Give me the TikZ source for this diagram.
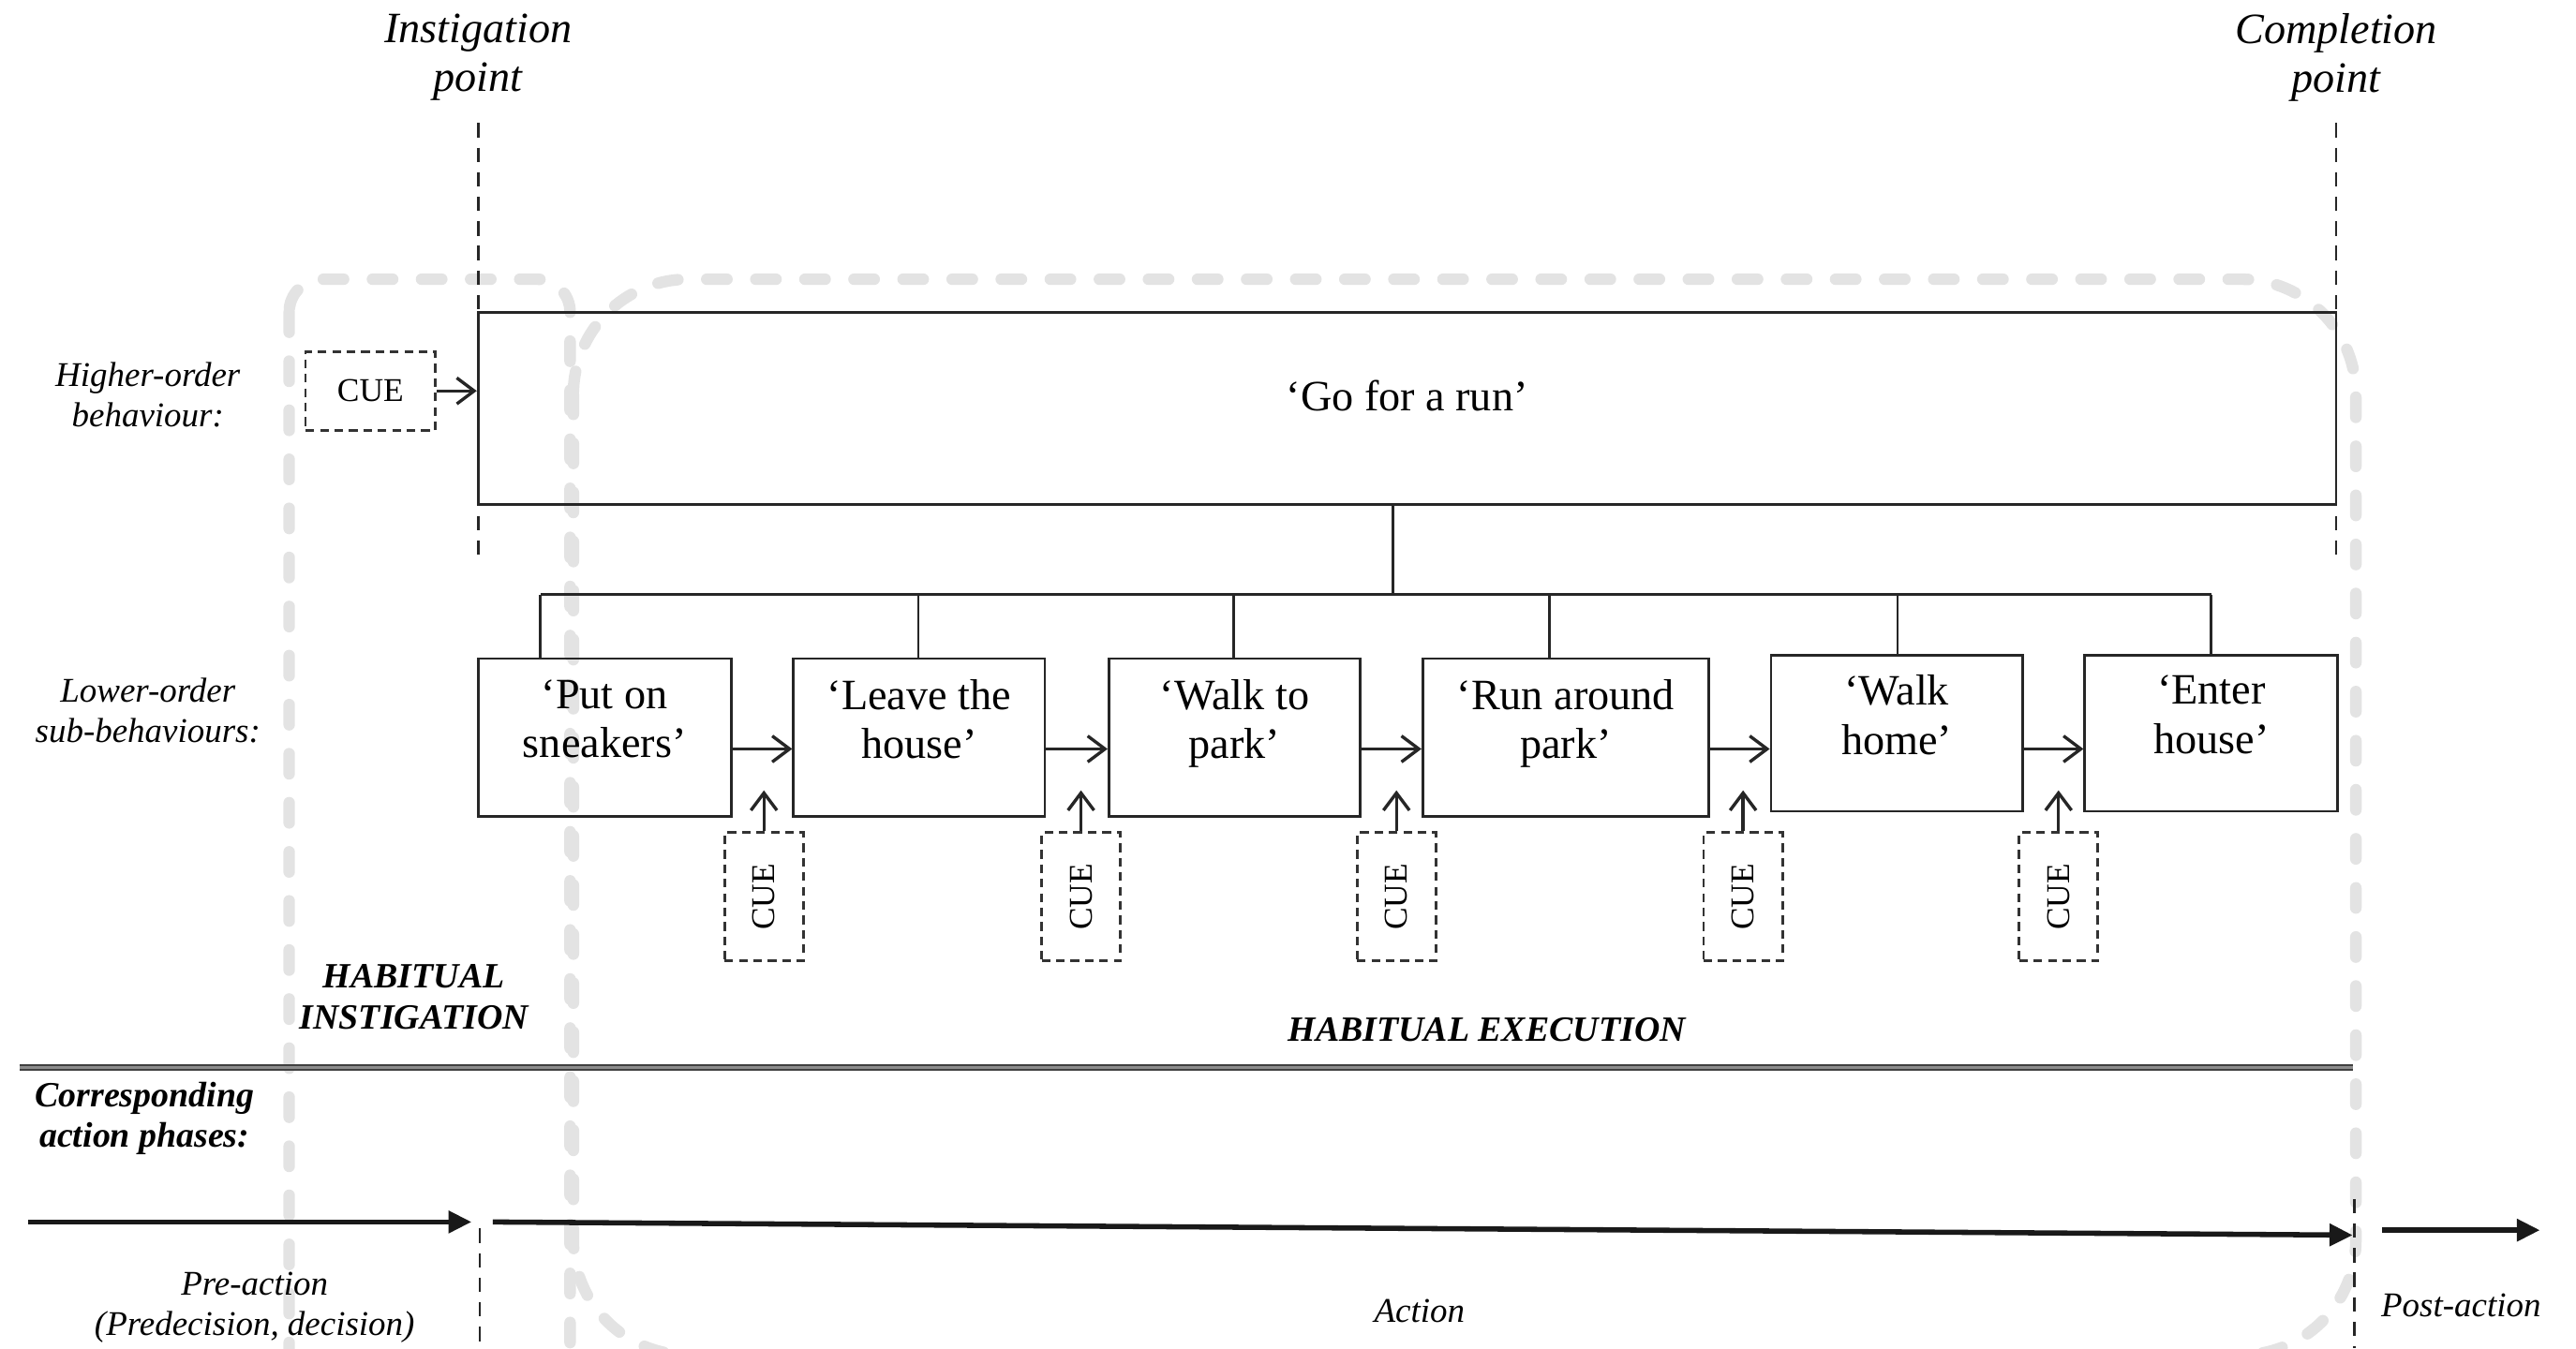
\documentclass[tikz,border=0pt]{standalone}
\usepackage{fontspec}
\setmainfont{Liberation Serif}
\usetikzlibrary{arrows.meta,positioning,calc}

\begin{document}
\begin{tikzpicture}[>={Triangle[length=8pt,width=7.5pt]},
  act/.style={draw=black!85,line width=0.9pt,align=center,inner sep=0pt,
              font=\fontsize{15}{17}\selectfont,text depth=13pt},
  cuebox/.style={draw=black!80,line width=0.9pt,dash pattern=on 3pt off 2pt,
                 inner sep=0pt,font=\fontsize{11.5}{13}\selectfont},
  tag/.style={align=center,font=\fontsize{12}{14}\selectfont\itshape},
  pt/.style={align=center,font=\fontsize{15}{17}\selectfont\itshape},
  phase/.style={align=center,font=\fontsize{12.3}{14.2}\selectfont\bfseries\itshape},
  edge/.style={line width=0.9pt,black!85},
  flow/.style={-{Straight Barb[length=6pt,width=9pt]},line width=1.1pt,black!85},
  cut/.style={line width=0.9pt,black!85,dash pattern=on 5pt off 3.5pt},
  habit/.style={black!11,line width=4pt,line cap=round,dash pattern=on 7pt off 10pt},
  divider/.style={draw=black!75,line width=0.6pt,double=black!45,double distance=0.9pt},
  time/.style={->,line width=1.8pt,black!90}]
\useasboundingbox (0,0) rectangle (31.36,-16.42);
% grey habit regions, behind the rest
\begin{scope}
  \clip (0,0) rectangle (31.36,-16.42);
  \draw[habit,rounded corners=0.4cm] (3.52,-3.40) rectangle (6.94,-17.2);
  \draw[habit,rounded corners=1.4cm] (6.98,-3.40) rectangle (28.68,-16.5);
\end{scope}
% instigation and completion points
\node[pt] (inst) at (5.82,-0.70) {Instigation\\point};
\node[pt] (comp) at (28.44,-0.70) {Completion\\point};
\coordinate (instA) at (5.82,-1.50); \coordinate (instB) at (5.82,-6.80);
\coordinate (compA) at (28.44,-1.50); \coordinate (compB) at (28.44,-6.80);
\draw[cut] (instA) -- (instB);
\draw[cut] (compA) -- (compB);
% higher-order behaviour
\node[tag] (hi) at (1.80,-4.81) {Higher-order\\behaviour:};
\node[act,minimum width=22.62cm,minimum height=2.34cm,text depth=9pt] (run)
  at (17.13,-4.97) {‘Go for a run’};
\node[cuebox,minimum width=1.58cm,minimum height=0.96cm] (cue0) at (4.51,-4.76) {CUE};
\draw[flow] (cue0) -- (cue0 -| run.west);
% lower-order sub-behaviours
\node[tag] (lo) at (1.80,-8.65) {Lower-order\\sub-behaviours:};
\node[act,minimum width=3.08cm,minimum height=1.92cm] (shoes) at (7.36,-8.98)  {‘Put on\\sneakers’};
\node[act,minimum width=3.06cm,minimum height=1.92cm] (leave) at (11.19,-8.98) {‘Leave the\\house’};
\node[act,minimum width=3.06cm,minimum height=1.92cm] (walk)  at (15.03,-8.98) {‘Walk to\\park’};
\node[act,minimum width=3.48cm,minimum height=1.92cm] (park)  at (19.06,-8.98) {‘Run around\\park’};
\node[act,minimum width=3.06cm,minimum height=1.90cm] (home)  at (23.09,-8.93) {‘Walk\\home’};
\node[act,minimum width=3.08cm,minimum height=1.90cm] (enter) at (26.92,-8.93) {‘Enter\\house’};
\coordinate (hub) at (16.96,-7.24);
\draw[edge] (run.south -| hub) -- (hub);
\draw[edge] (hub -| 6.58,0) -- (hub -| 26.92,0);
\foreach \b/\x in {shoes/6.58,leave/11.18,walk/15.02,park/18.86,home/23.10,enter/26.92}
  \draw[edge] (hub -| \x,0) -- (\b.north -| \x,0);
\foreach \a/\b in {shoes/leave,leave/walk,walk/park,park/home,home/enter}
  \draw[flow] (\a.east |- 0,-9.12) -- (\b.west |- 0,-9.12);
\foreach \n/\x in {1/9.30,2/13.16,3/17.00,4/21.22,5/25.06}
  {\node[cuebox,minimum width=0.96cm,minimum height=1.56cm] (cue\n) at (\x,-10.92)
     {\rotatebox{90}{CUE}};
   \draw[flow] (cue\n.north) -- ++(0,0.5);}
\node[phase] (hinst) at (5.04,-12.14) {HABITUAL\\INSTIGATION};
\node[phase] (hexec) at (18.10,-12.54) {HABITUAL EXECUTION};
% action phases
\coordinate (divL) at (0.24,-13.00); \coordinate (divR) at (28.64,-13.00);
\draw[divider] (divL) -- (divR);
\node[phase] (corr) at (1.76,-13.62) {Corresponding\\action phases:};
\coordinate (t0) at (0.34,-14.88);  \coordinate (t1) at (5.74,-14.88);
\coordinate (t2) at (6.00,-14.88);  \coordinate (t3) at (28.64,-15.04);
\coordinate (t4) at (29.00,-14.98); \coordinate (t5) at (30.92,-14.98);
\draw[time] (t0) -- (t1);
\draw[time] (t2) -- (t3);
\draw[time] (t4) -- (t5);
\coordinate (preA) at (5.84,-14.96);  \coordinate (preB) at (5.84,-16.42);
\coordinate (postA) at (28.66,-14.60); \coordinate (postB) at (28.66,-16.42);
\draw[cut] (preA) -- (preB);
\draw[cut] (postA) -- (postB);
\node[tag] (pre) at (3.10,-15.92) {Pre-action\\(Predecision, decision)};
\node[tag] (action) at (17.28,-15.96) {Action};
\node[tag] (post) at (29.96,-15.90) {Post-action};
\end{tikzpicture}
\end{document}
